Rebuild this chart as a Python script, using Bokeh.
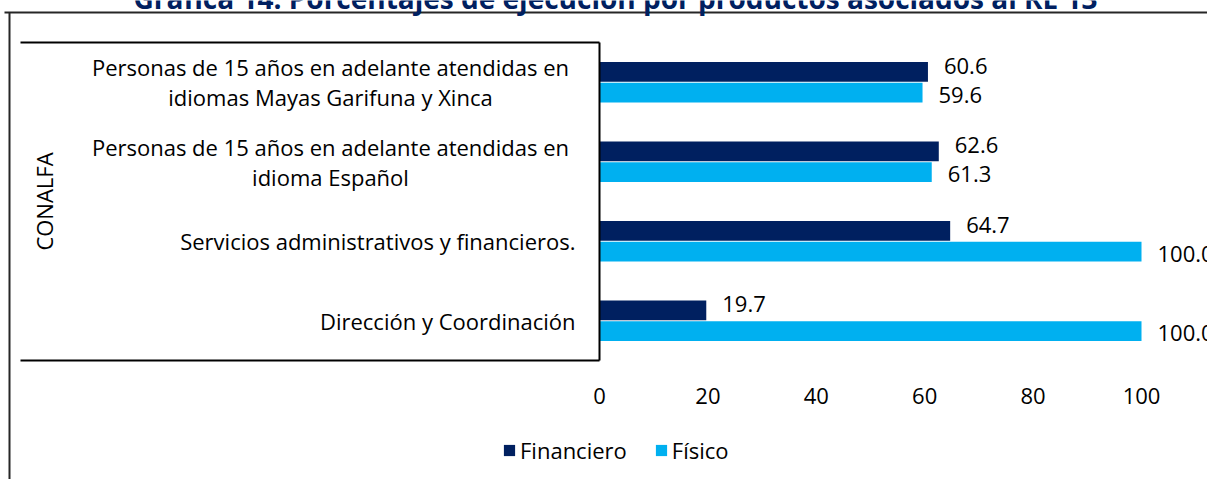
from bokeh.plotting import figure
from bokeh.models import Range1d, Legend, LegendItem, ColumnDataSource
from bokeh.core.properties import value
from bokeh.embed import file_html
from bokeh.resources import INLINE
import math

# ---------------- data ----------------
title_text = "Gráfica 14. Porcentajes de ejecución por productos asociados al RE 13"
group_label = "CONALFA"
categories = [
    "Personas de 15 años en adelante atendidas en\nidiomas Mayas Garifuna y Xinca",
    "Personas de 15 años en adelante atendidas en\nidioma Español",
    "Servicios administrativos y financieros.",
    "Dirección y Coordinación",
]
financiero = [60.6, 62.6, 64.7, 19.7]
fisico = [59.6, 61.3, 100.0, 100.0]
series_names = ["Financiero", "Físico"]
x_ticks = [0, 20, 40, 60, 80, 100]

# ---------------- layout / style ----------------
FONT = "Open Sans"
FS = "22px"
C_FIN = "#002060"
C_FIS = "#00B0F0"
TXT = "#000000"
LINE = "#000000"
W, H = 1207, 479
X0_PX = 599            # pixel column of value 0
PPU = 5.42             # pixels per value unit
TOP_PX, BOT_PX = 42, 360   # category band (plot area) top / bottom
N = len(categories)
PPC = (BOT_PX - TOP_PX) / N

def xd(px):            # canvas pixel column -> data x
    return (px - X0_PX) / PPU

def yd(py):            # canvas pixel row -> data y (category units, 0 at band bottom)
    return (BOT_PX - py) / PPC

p = figure(width=W, height=H, output_backend="svg", toolbar_location=None,
           x_range=Range1d(xd(0), xd(W)), y_range=Range1d(yd(H), yd(0)),
           x_axis_location=None, y_axis_location=None,
           min_border=0, min_border_left=0, min_border_right=0,
           min_border_top=0, min_border_bottom=0)
p.outline_line_color = None
p.grid.visible = False
p.background_fill_color = "white"
p.border_fill_color = "white"

# category positions (first category on top)
ycat = [N - 1 - i + 0.5 for i in range(N)]
BAR_H = 0.25
OFF = 0.13

src = ColumnDataSource(dict(
    y_fin=[y + OFF for y in ycat],
    y_fis=[y - OFF for y in ycat],
    fin=financiero,
    fis=fisico,
    fin_lbl=["%.1f" % v for v in financiero],
    fis_lbl=["%.1f" % v for v in fisico],
))

r_fin = p.hbar(y="y_fin", left=0, right="fin", height=BAR_H, source=src,
               fill_color=C_FIN, line_color=None)
r_fis = p.hbar(y="y_fis", left=0, right="fis", height=BAR_H, source=src,
               fill_color=C_FIS, line_color=None)

lbl_style = dict(text_font=value(FONT), text_font_size=FS, text_color=TXT,
                 text_align="left", text_baseline="middle", x_offset=16)
p.text(x="fin", y="y_fin", text="fin_lbl", source=src, y_offset=-6, **lbl_style)
p.text(x="fis", y="y_fis", text="fis_lbl", source=src, y_offset=2, **lbl_style)

# value axis tick labels (no axis line, no ticks, no grid)
p.text(x=x_ticks, y=[yd(395)] * len(x_ticks), text=[str(t) for t in x_ticks],
       text_font=value(FONT), text_font_size=FS, text_color=TXT,
       text_align="center", text_baseline="middle")

# category axis line at value 0 and the category box (top & bottom)
p.segment(x0=[0], y0=[0], x1=[0], y1=[N], line_color=LINE, line_width=2)
p.segment(x0=[xd(20), xd(20)], y0=[N, 0], x1=[0, 0], y1=[N, 0],
          line_color=LINE, line_width=2)

# outer chart border (top and left)
p.segment(x0=[xd(4), xd(9)], y0=[yd(12), yd(12)], x1=[xd(W + 5), xd(9)], y1=[yd(12), yd(H + 5)],
          line_color="#262626", line_width=2)

# category labels
two = [c for c in categories if "\n" in c]
one = [c for c in categories if "\n" not in c]
p.text(x=[xd(330)] * len(two), y=[ycat[categories.index(c)] for c in two], text=two,
       text_font=value(FONT), text_font_size=FS, text_color=TXT,
       text_align="center", text_baseline="middle", text_line_height=1.0)
p.text(x=[xd(575)] * len(one), y=[ycat[categories.index(c)] for c in one], text=one,
       text_font=value(FONT), text_font_size=FS, text_color=TXT,
       text_align="right", text_baseline="middle")

# group label (rotated)
p.text(x=[xd(43)], y=[N / 2], text=[group_label], angle=math.pi / 2,
       text_font=value(FONT), text_font_size=FS, text_color=TXT,
       text_align="center", text_baseline="middle")

# title (cut at the top edge, as in the reference)
p.text(x=[xd(615)], y=[yd(-3)], text=[title_text],
       text_font=value(FONT), text_font_size="28px", text_font_style="bold",
       text_color=C_FIN, text_align="center", text_baseline="middle")

legend = Legend(items=[LegendItem(label=series_names[0], renderers=[r_fin]),
                       LegendItem(label=series_names[1], renderers=[r_fis])],
                orientation="horizontal", location=(502, 14),
                glyph_width=14, glyph_height=14, label_standoff=4, spacing=27,
                padding=0, margin=0, border_line_color=None, background_fill_alpha=0,
                label_text_font=FONT, label_text_font_size=FS, label_text_color=TXT)
p.add_layout(legend)

open("out.html", "w").write(file_html(p, INLINE))
